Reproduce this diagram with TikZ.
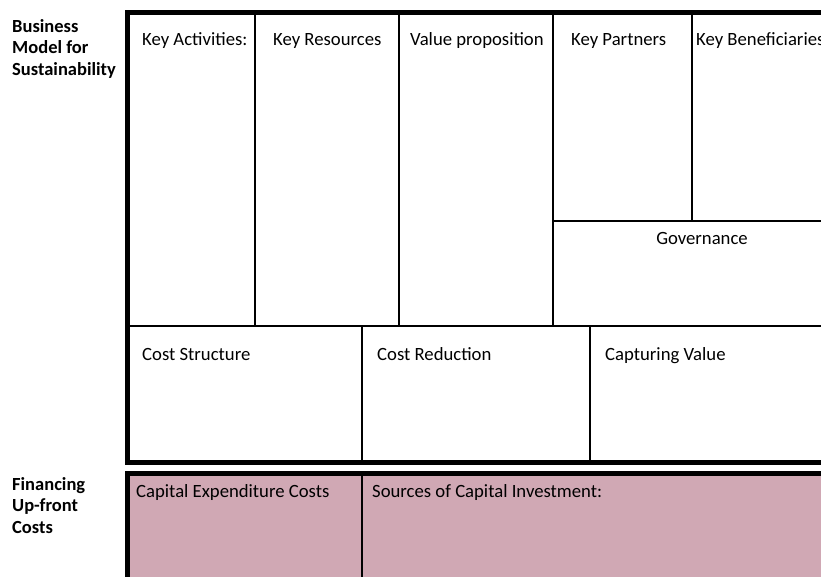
\documentclass[tikz,border=0pt]{standalone}
\usepackage{fontspec}
\setmainfont{Carlito}
\definecolor{finpink}{HTML}{D0A8B4}
\begin{document}
\begin{tikzpicture}[x=1pt,y=-1pt,
  heavy/.style={line width=5pt},
  divider/.style={line width=1.7pt},
  lbl/.style={anchor=base west, inner sep=0pt, font=\fontsize{18.7}{21.5}\selectfont},
  side/.style={anchor=base west, inner sep=0pt, align=left, font=\fontsize{18.5}{21.2}\selectfont\bfseries}]
\useasboundingbox (0,0) rectangle (821,576);
\clip (0,0) rectangle (821,576);
% coordinates
\coordinate (tl) at (127,12);
\coordinate (tr) at (830,12);
\coordinate (bl) at (127,462);
\coordinate (br) at (830,462);
\coordinate (ftl) at (127,473);
\coordinate (ftr) at (830,473);
\coordinate (fbl) at (127,590);
\coordinate (fbr) at (830,590);
% financing block
\fill[finpink] (ftl) rectangle (fbr);
\coordinate (fd1) at (362,473);
\coordinate (fd2) at (362,590);
\draw[divider] (fd1) -- (fd2);
\draw[heavy] (fbl) -- (ftl) -- (ftr);
% top block thin lines
\coordinate (mid l) at (127,326);
\coordinate (mid r) at (830,326);
\draw[divider] (mid l) -- (mid r);
\coordinate (v1t) at (255,12);  \coordinate (v1b) at (255,326);
\coordinate (v2t) at (399,12);  \coordinate (v2b) at (399,326);
\coordinate (v3t) at (553,12);  \coordinate (v3b) at (553,326);
\coordinate (v4t) at (692,12);  \coordinate (v4b) at (692,221);
\coordinate (gl) at (553,221);  \coordinate (gr) at (830,221);
\coordinate (v5t) at (362,326); \coordinate (v5b) at (362,462);
\coordinate (v6t) at (590,326); \coordinate (v6b) at (590,462);
\draw[divider] (v1t) -- (v1b);
\draw[divider] (v2t) -- (v2b);
\draw[divider] (v3t) -- (v3b);
\draw[divider] (v4t) -- (v4b);
\draw[divider] (gl) -- (gr);
\draw[divider] (v5t) -- (v5b);
\draw[divider] (v6t) -- (v6b);
\draw[heavy] (tr) -- (tl) -- (bl) -- (br);
% labels
\node[side] (bms) at (12,75) {Business\\Model for\\Sustainability};
\node[side] (fuc) at (12,533) {Financing\\Up-front\\Costs};
\node[lbl] (ka) at (142,45) {Key Activities:};
\node[lbl] (kr) at (273,45) {Key Resources};
\node[lbl] (vp) at (410,45) {Value proposition};
\node[lbl] (kp) at (571,45) {Key Partners};
\node[lbl] (kb) at (696,45) {Key Beneficiaries};
\node[anchor=base, inner sep=0pt, font=\fontsize{18.7}{21.5}\selectfont] (gov) at (702,244) {Governance};
\node[lbl] (cs) at (142,360) {Cost Structure};
\node[lbl] (cr) at (377,360) {Cost Reduction};
\node[lbl] (cv) at (605,360) {Capturing Value};
\node[lbl] (cec) at (136,497) {Capital Expenditure Costs};
\node[lbl] (sci) at (372,497) {Sources of Capital Investment:};
\end{tikzpicture}
\end{document}
